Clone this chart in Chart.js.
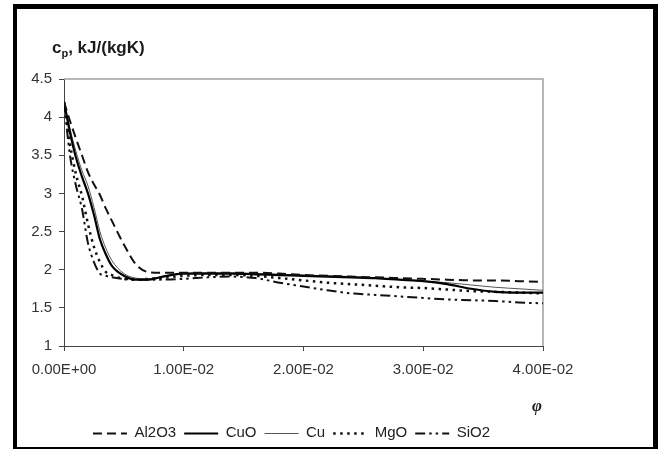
<!DOCTYPE html>
<html>
<head>
<meta charset="utf-8">
<title>Specific heat of nanofluids</title>
<script src="https://cdn.jsdelivr.net/npm/chart.js@4.4.1/dist/chart.umd.min.js"></script>
<style>
    html, body { margin: 0; padding: 0; background: #fff; }
    body { width: 659px; height: 449px; position: relative; overflow: hidden; }
    #frame {
        position: absolute; left: 13px; top: 4px; width: 645px; height: 447px;
        box-sizing: border-box; border: 4px solid #000; border-right-width: 5px; border-top-width: 5px;
        pointer-events: none; z-index: 2;
    }
    #wrap { position: absolute; left: 17px; top: 9px; width: 636px; height: 441px; z-index: 1; }
</style>
</head>
<body>
<div id="wrap"><canvas id="cpChart" width="636" height="441"></canvas></div>
<div id="frame"></div>
<script>
// volume fraction
const phi = [0, 0.0005, 0.001, 0.0015, 0.002, 0.0025, 0.003, 0.0035, 0.004, 0.005, 0.006, 0.007, 0.008,
    0.010, 0.012, 0.014, 0.016, 0.018, 0.020, 0.022, 0.024, 0.026, 0.028, 0.030, 0.032, 0.034, 0.036, 0.038, 0.040];

// cp, kJ/(kgK)
const cpAl2O3 = [4.20, 3.95, 3.72, 3.50, 3.28, 3.12, 2.98, 2.80, 2.64, 2.33, 2.07, 1.97, 1.96,
    1.96, 1.96, 1.96, 1.96, 1.95, 1.93, 1.92, 1.91, 1.90, 1.89, 1.88, 1.87, 1.86, 1.86, 1.85, 1.84];
const cpCuO = [4.20, 3.80, 3.47, 3.22, 3.00, 2.72, 2.40, 2.20, 2.05, 1.92, 1.87, 1.87, 1.90,
    1.95, 1.95, 1.95, 1.94, 1.93, 1.92, 1.91, 1.90, 1.89, 1.87, 1.85, 1.81, 1.75, 1.71, 1.70, 1.70];
const cpCu = [4.20, 3.85, 3.55, 3.30, 3.10, 2.82, 2.50, 2.28, 2.12, 1.95, 1.89, 1.88, 1.90,
    1.95, 1.96, 1.96, 1.95, 1.94, 1.93, 1.92, 1.91, 1.89, 1.87, 1.85, 1.83, 1.80, 1.77, 1.75, 1.73];
const cpMgO = [4.20, 3.65, 3.25, 2.97, 2.60, 2.30, 2.10, 1.97, 1.93, 1.88, 1.87, 1.88, 1.89,
    1.92, 1.93, 1.93, 1.92, 1.89, 1.86, 1.83, 1.81, 1.79, 1.77, 1.76, 1.74, 1.72, 1.71, 1.70, 1.69];
const cpSiO2 = [4.20, 3.50, 3.10, 2.80, 2.35, 2.10, 1.95, 1.92, 1.90, 1.88, 1.87, 1.87, 1.87,
    1.88, 1.90, 1.91, 1.89, 1.83, 1.78, 1.73, 1.69, 1.67, 1.65, 1.63, 1.61, 1.60, 1.59, 1.57, 1.56];

const xTicks = [0, 0.01, 0.02, 0.03, 0.04];
const xTickLabels = ["0.00E+00", "1.00E-02", "2.00E-02", "3.00E-02", "4.00E-02"];

const FONT = "'Liberation Sans', Arial, sans-serif";
const SAMPLE_W = 34;

function pts(ys) {
    return phi.map(function (x, i) { return { x: x, y: ys[i] }; });
}

function series(label, ys, width, dash, color) {
    return {
        label: label,
        data: pts(ys),
        borderColor: color,
        backgroundColor: color,
        borderWidth: width,
        borderDash: dash,
        pointRadius: 0,
        fill: false,
        cubicInterpolationMode: "monotone"
    };
}

// y-axis caption with subscript, the phi caption, and dashed legend samples
const captions = {
    id: "captions",
    afterDraw: function (chart) {
        const ctx = chart.ctx;
        ctx.save();
        ctx.fillStyle = "#1a1a1a";
        ctx.textBaseline = "alphabetic";
        ctx.textAlign = "left";
        let x = 35;
        ctx.font = "bold 17px " + FONT;
        ctx.fillText("c", x, 44);
        x += ctx.measureText("c").width;
        ctx.font = "bold 11px " + FONT;
        ctx.fillText("p", x, 48);
        x += ctx.measureText("p").width;
        ctx.font = "bold 17px " + FONT;
        ctx.fillText(", kJ/(kgK)", x, 44);

        ctx.font = "bold italic 17px 'Liberation Serif', 'Times New Roman', serif";
        ctx.textAlign = "center";
        ctx.textBaseline = "middle";
        ctx.fillText("\u03c6", 520, 398);

        // line samples in front of each legend label
        const boxes = chart.legend.legendHitBoxes || [];
        boxes.forEach(function (hb, i) {
            const ds = chart.data.datasets[i];
            const y = Math.round(hb.top + hb.height / 2) + 0.5;
            ctx.strokeStyle = ds.borderColor;
            ctx.lineWidth = ds.borderWidth;
            ctx.setLineDash(ds.borderDash);
            ctx.beginPath();
            ctx.moveTo(hb.left, y);
            ctx.lineTo(hb.left + SAMPLE_W, y);
            ctx.stroke();
        });
        ctx.restore();
    }
};

// grey top and right edges of the plot box
const plotBox = {
    id: "plotBox",
    beforeDatasetsDraw: function (chart) {
        const a = chart.chartArea;
        const ctx = chart.ctx;
        ctx.save();
        ctx.strokeStyle = "#a0a0a0";
        ctx.lineWidth = 1.5;
        ctx.beginPath();
        ctx.moveTo(a.left, a.top);
        ctx.lineTo(a.right, a.top);
        ctx.lineTo(a.right, a.bottom);
        ctx.stroke();
        ctx.restore();
    }
};

new Chart(document.getElementById("cpChart"), {
    type: "line",
    data: {
        datasets: [
            series("Al2O3", cpAl2O3, 2, [9, 5], "#111"),
            series("CuO", cpCuO, 2.2, [], "#000"),
            series("Cu", cpCu, 1, [], "#555"),
            series("MgO", cpMgO, 2.5, [2.5, 4.5], "#111"),
            series("SiO2", cpSiO2, 2, [10, 4, 2.5, 4, 2.5, 4], "#111")
        ]
    },
    plugins: [captions, plotBox],
    options: {
        responsive: false,
        animation: false,
        layout: { padding: { left: 7, right: 94, top: 70, bottom: 0 } },
        plugins: {
            title: { display: false },
            tooltip: { enabled: false },
            legend: {
                display: true,
                position: "bottom",
                align: "center",
                labels: {
                    boxWidth: SAMPLE_W,
                    boxHeight: 2,
                    padding: 8,
                    color: "#222",
                    font: { family: FONT, size: 15 },
                    generateLabels: function (chart) {
                        const items = Chart.defaults.plugins.legend.labels.generateLabels(chart);
                        items.forEach(function (it) {
                            it.fillStyle = "rgba(0,0,0,0)";
                            it.lineWidth = 0;
                        });
                        return items;
                    }
                }
            }
        },
        scales: {
            x: {
                type: "linear",
                min: 0,
                max: 0.04,
                afterBuildTicks: function (scale) {
                    scale.ticks = xTicks.map(function (v) { return { value: v }; });
                },
                afterFit: function (scale) {
                    scale.height = 71;
                    scale.paddingLeft = 0;
                    scale.paddingRight = 0;
                },
                ticks: {
                    padding: 10,
                    maxRotation: 0,
                    color: "#333",
                    font: { family: FONT, size: 15 },
                    callback: function (value) {
                        const i = xTicks.indexOf(value);
                        return i >= 0 ? xTickLabels[i] : "";
                    }
                },
                grid: { drawOnChartArea: false, drawTicks: true, tickLength: 5, color: "#444" },
                border: { display: true, color: "#444", width: 1 }
            },
            y: {
                min: 1,
                max: 4.5,
                afterFit: function (scale) { scale.width = 40; },
                ticks: {
                    stepSize: 0.5,
                    padding: 7,
                    color: "#333",
                    font: { family: FONT, size: 15 },
                    callback: function (value) { return String(value); }
                },
                grid: { drawOnChartArea: false, drawTicks: true, tickLength: 5, color: "#444" },
                border: { display: true, color: "#444", width: 1 }
            },
            // empty spacer on the right, keeps the legend row where it belongs
            spacer: {
                type: "linear",
                position: "right",
                min: 1,
                max: 4.5,
                afterFit: function (scale) { scale.width = 16; },
                ticks: { display: false },
                grid: { display: false, drawTicks: false },
                border: { display: false }
            }
        }
    }
});
</script>
</body>
</html>
